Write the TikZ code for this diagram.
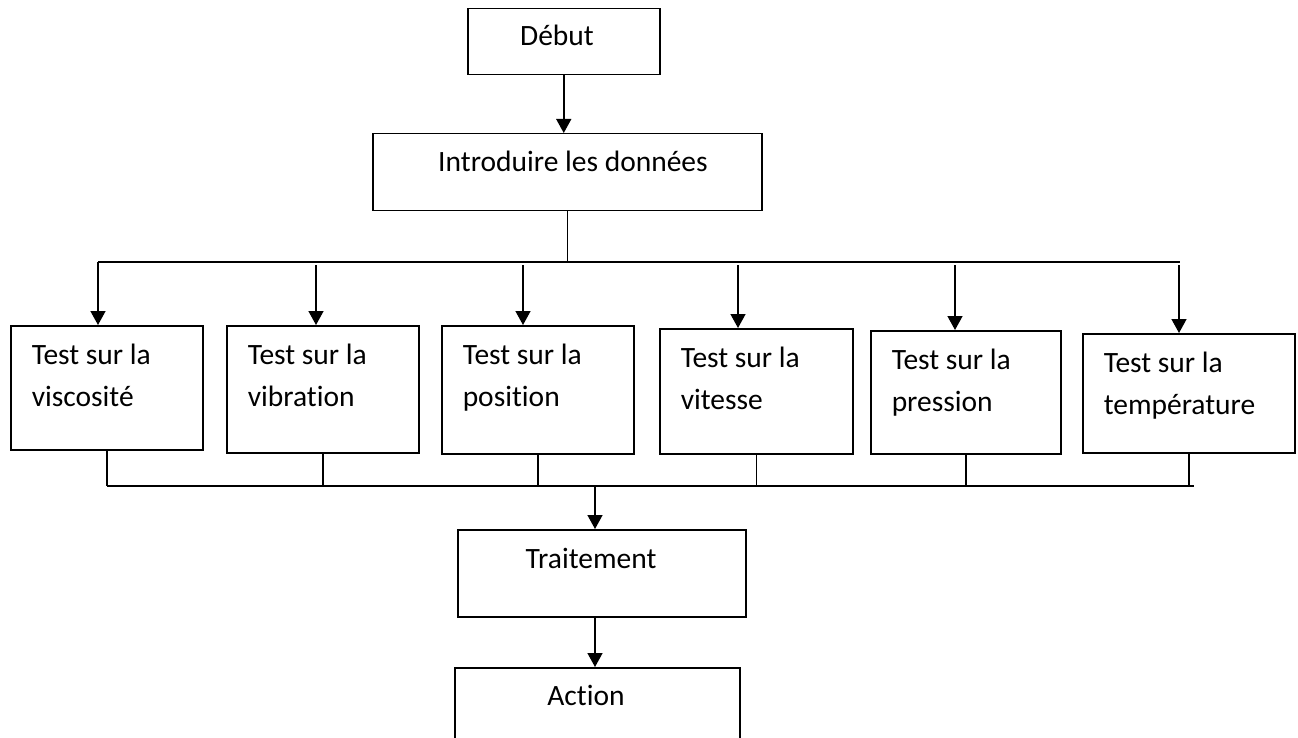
\documentclass[tikz,border=0pt]{standalone}
\usepackage{fontspec}
\setmainfont{Carlito}[Ligatures=NoCommon]
\usetikzlibrary{arrows.meta, positioning}

\tikzset{
  box/.style={draw, anchor=north west, inner sep=0},
  lbl/.style={inner sep=0, font=\fontsize{29.5}{42}\selectfont},
}

\begin{document}
\begin{tikzpicture}[x=1pt, y=-1pt, line width=1.5pt,
  >={Triangle[width=15pt,length=14pt]}]
 \useasboundingbox (0,0) rectangle (1298,738);
 \clip (0,0) rectangle (1298,738);

 \node [box, minimum width=192, minimum height=66] (debut) at (467,8) {};
 \node [lbl, anchor=base] (debut-t) at (557,46) {Début};
 \node [box, minimum width=389, minimum height=77] (intro) at (372,133) {};
 \node [lbl, anchor=base] (intro-t) at (573,172) {Introduire les données};

 \draw [->] (debut.south) -- (intro.north -| debut.south);

 % distribution bus and the six tests
 \coordinate (busL) at (98,262);
 \coordinate (busR) at (1180,262);
 \coordinate (joinL) at (107,486);
 \coordinate (joinR) at (1194,486);
 \draw (intro.south) -- (intro.south |- busL);
 \draw (busL) -- (busR);
 \draw (joinL) -- (joinR);

 \foreach \n/\l/\t/\w/\h/\ax/\g/\txt in {
   v1/10/325/192/124/98/0/viscosité,
   v2/226/325/192/127/316/3/vibration,
   v3/441/325/192/128/523/3/position,
   v4/659/328/193/125/738/3/vitesse,
   v5/870/330/190/123/955/3/pression,
   v6/1082/333/212/119/1179/3/température} {
  \node [box, minimum width=\w, minimum height=\h] (\n) at (\l,\t) {};
  \node [lbl, align=left, anchor=north west] (\n-t) at (\l+21,\t+18) {Test sur la\\\txt};
  \draw [->, shorten <=\g] (busL -| \ax,0) -- (\n.north -| \ax,0);
  \draw (\n.south) -- (\n.south |- joinL);
 }

 \coordinate (mid) at (595,0);
 \node [box, minimum width=288, minimum height=87] (trait) at (457,529) {};
 \node [lbl, anchor=base] (trait-t) at (591,568) {Traitement};
 \node [box, minimum width=285, minimum height=100] (action) at (454,667) {};
 \node [lbl, anchor=base] (action-t) at (586,705) {Action};

 \draw [->] (joinL -| mid) -- (trait.north -| mid);
 \draw [->] (trait.south -| mid) -- (action.north -| mid);
\end{tikzpicture}
\end{document}
